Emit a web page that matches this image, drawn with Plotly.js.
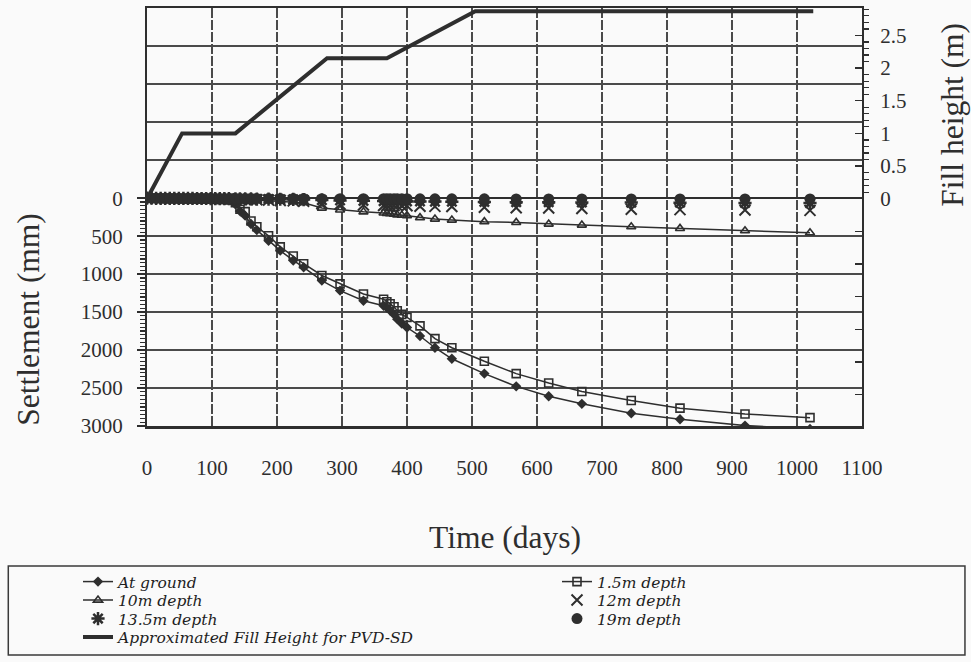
<!DOCTYPE html>
<html>
<head>
<meta charset="utf-8">
<script src="https://cdn.plot.ly/plotly-3.0.1.min.js"></script>
<style>html,body{margin:0;padding:0;background:#fafafa;}#chart{width:971px;height:662px;}</style>
</head>
<body>
<div id="chart"></div>
<script>
// ---- data ----
const days = [0,7,14,21,28,35,42,49,56,63,70,77,84,91,98,105,112,119,126,
  136,143,151,160,169,187,205,225,241,269,297,333,364,369,374,380,385,392,400,420,443,469,519,568,618,669,745,820,920,1020];
const groundSettle = [0,2,4,5,6,7,8,9,10,11,12,13,14,15,16,17,18,19,25,
  80,170,230,340,420,560,690,820,910,1085,1217,1350,1416,1440,1480,1530,1593,1650,1703,1815,1969,2115,2310,2478,2608,2708,2832,2911,2995,3040];
const depth15Settle = [0,1,3,4,5,6,7,8,9,10,10,11,12,13,14,15,16,17,22,
  60,146,177,301,376,495,641,761,863,1018,1128,1261,1330,1363,1390,1430,1483,1530,1570,1682,1849,1969,2147,2310,2433,2545,2664,2765,2841,2890];
const depth10Settle = [0,0,1,1,2,2,3,3,4,4,5,5,6,6,7,7,8,8,9,
  12,15,18,22,25,30,40,50,60,130,155,180,195,200,205,210,221,225,230,256,275,288,309,319,341,354,376,398,429,455];
const depth12Settle = [0,1,2,2,3,3,4,4,5,5,6,6,7,7,8,8,9,9,10,
  12,14,16,18,20,25,30,35,40,70,80,90,95,96,97,98,99,100,100,105,108,110,120,125,130,135,145,150,155,160];
const depth135Settle = [0,0,1,1,1,2,2,2,3,3,3,4,4,4,5,5,5,6,6,
  7,8,9,10,11,12,14,16,18,25,30,35,38,39,40,40,41,42,42,44,45,46,50,52,54,56,58,60,62,64];
const depth19Settle = [0,0,0,0,0,1,1,1,1,1,2,2,2,2,2,3,3,3,3,
  3,4,4,4,4,5,5,5,5,6,6,6,7,7,7,7,7,7,7,8,8,8,8,9,9,9,10,10,10,10];
const fillDays = [0,54,136,277,369,505,1025];
const fillHeight = [0,1.0,1.0,2.15,2.15,2.87,2.87];
const xTicks = [0,100,200,300,400,500,600,700,800,900,1000,1100];
const settleTicks = [0,500,1000,1500,2000,2500,3000];
const settleUpperGrid = [-2000,-1500,-1000,-500];
const fillTicks = [-3,-2.5,-2,-1.5,-1,-0.5,0,0.5,1,1.5,2,2.5];
const fillTickText = ['','','','','','','0','0.5','1','1.5','2','2.5'];
const names = ['At ground','1.5m depth','10m depth','12m depth','13.5m depth','19m depth','Approximated Fill Height for PVD-SD'];

// ---- styling ----
const ink = '#2e2e2e';
const gridInk = '#4a4a4a';
const serif = 'Liberation Serif, Times New Roman, serif';

const settleMinor = [];
for (let v = 0; v <= 3000; v += 50) { if (v % 500 !== 0) settleMinor.push(v); }
const fillMinor = [];
for (let k = 1; k <= 29; k++) { if (k % 5 !== 0) fillMinor.push(k / 10); }

const traces = [
  {x: days, y: groundSettle, name: names[0], mode: 'lines+markers', legend: 'legend',
   line: {color: ink, width: 1.5}, marker: {symbol: 'diamond', size: 8, color: ink}},
  {x: days, y: depth15Settle, name: names[1], mode: 'lines+markers', legend: 'legend2',
   line: {color: ink, width: 1.5}, marker: {symbol: 'square-open', size: 8, color: ink, line: {width: 1.6}}},
  {x: days, y: depth10Settle, name: names[2], mode: 'lines+markers', legend: 'legend3',
   line: {color: ink, width: 1.5}, marker: {symbol: 'triangle-up-open', size: 8, color: ink, line: {width: 1.6}}},
  {x: days, y: depth12Settle, name: names[3], mode: 'markers', legend: 'legend4',
   marker: {symbol: 'x-thin-open', size: 11, color: ink, line: {width: 2, color: ink}}},
  {x: days, y: depth135Settle, name: names[4], mode: 'markers', legend: 'legend5',
   marker: {symbol: 'asterisk-open', size: 11, color: ink, line: {width: 2.5, color: ink}}},
  {x: days, y: depth19Settle, name: names[5], mode: 'markers', legend: 'legend6',
   marker: {symbol: 'circle', size: 11, color: ink}},
  {x: fillDays, y: fillHeight, name: names[6], mode: 'lines', yaxis: 'y2', legend: 'legend7',
   line: {color: ink, width: 4}},
  {x: [], y: [], yaxis: 'y3', showlegend: false, hoverinfo: 'skip'}
];

const settleRange = [3000, -2505];

const legendFont = {family: 'DejaVu Serif, serif', size: 15.5, color: '#1e1e1e', style: 'italic'};
function legendAt(px, py) {
  return {xref: 'container', yref: 'container', x: px / 971, y: 1 - py / 662,
    xanchor: 'left', yanchor: 'middle', orientation: 'v', font: legendFont,
    bgcolor: 'rgba(0,0,0,0)', borderwidth: 0};
}

const titleFont = {family: serif, size: 31.5, color: ink};

const layout = {
  width: 971, height: 662,
  paper_bgcolor: '#fafafa', plot_bgcolor: '#fafafa',
  margin: {l: 147, r: 109, t: 8, b: 236, autoexpand: false},
  showlegend: true,
  font: {family: serif, color: ink, size: 21},
  xaxis: {
    range: [0, 1100], tickvals: xTicks, ticks: '', ticklabelstandoff: 21, automargin: false,
    showgrid: true, gridcolor: gridInk, gridwidth: 1.4, griddash: '10px,2px',
    showline: true, linecolor: ink, linewidth: 2.5, mirror: true, zeroline: false,
    tickfont: {family: serif, size: 21, color: ink}
  },
  yaxis: {
    range: settleRange, tickvals: settleTicks, ticks: 'outside', ticklen: 8, tickwidth: 1.5, tickcolor: ink,
    minor: {tickmode: 'array', tickvals: settleMinor, ticks: 'outside', ticklen: 5, tickwidth: 1.2, tickcolor: ink, showgrid: false},
    ticklabelstandoff: 10, automargin: false,
    showgrid: true, gridcolor: gridInk, gridwidth: 2,
    zeroline: true, zerolinecolor: ink, zerolinewidth: 2.5,
    showline: true, linecolor: ink, linewidth: 2,
    tickfont: {family: serif, size: 21, color: ink}
  },
  yaxis2: {
    overlaying: 'y', side: 'right', range: [-3.48, 2.92], automargin: false,
    tickvals: fillTicks, ticktext: fillTickText, ticks: 'inside', ticklen: 7, tickwidth: 1.5, tickcolor: ink,
    minor: {tickmode: 'array', tickvals: fillMinor, ticks: 'outside', ticklen: 5, tickwidth: 1.2, tickcolor: ink, showgrid: false},
    ticklabelstandoff: 12,
    showgrid: false, zeroline: false,
    showline: true, linecolor: ink, linewidth: 2,
    tickfont: {family: serif, size: 21, color: ink}
  },
  yaxis3: {
    overlaying: 'y', side: 'left', range: settleRange, tickvals: settleUpperGrid, automargin: false,
    showticklabels: false, ticks: '', showgrid: true, gridcolor: gridInk, gridwidth: 2,
    zeroline: false, showline: false
  },
  legend: legendAt(78, 582),
  legend2: legendAt(557, 582),
  legend3: legendAt(78, 600.5),
  legend4: legendAt(557, 600.5),
  legend5: legendAt(78, 619),
  legend6: legendAt(557, 619),
  legend7: legendAt(78, 637.5),
  shapes: [
    {type: 'rect', xref: 'paper', yref: 'paper', x0: -0.194, x1: 1.144, y0: -0.548, y1: -0.335,
     line: {color: '#3a3a3a', width: 1.5}, fillcolor: 'rgba(0,0,0,0)', layer: 'below'}
  ],
  annotations: [
    {text: 'Settlement (mm)', xref: 'paper', yref: 'paper', x: -0.166, y: 0.255, textangle: -90,
     showarrow: false, xanchor: 'center', yanchor: 'middle', font: titleFont},
    {text: 'Fill height (m)', xref: 'paper', yref: 'paper', x: 1.126, y: 0.745, textangle: -90,
     showarrow: false, xanchor: 'center', yanchor: 'middle', font: titleFont},
    {text: 'Time (days)', xref: 'paper', yref: 'paper', x: 0.5, y: -0.266,
     showarrow: false, xanchor: 'center', yanchor: 'middle', font: titleFont}
  ]
};

Plotly.newPlot('chart', traces, layout, {staticPlot: true, displayModeBar: false});
</script>
</body>
</html>
